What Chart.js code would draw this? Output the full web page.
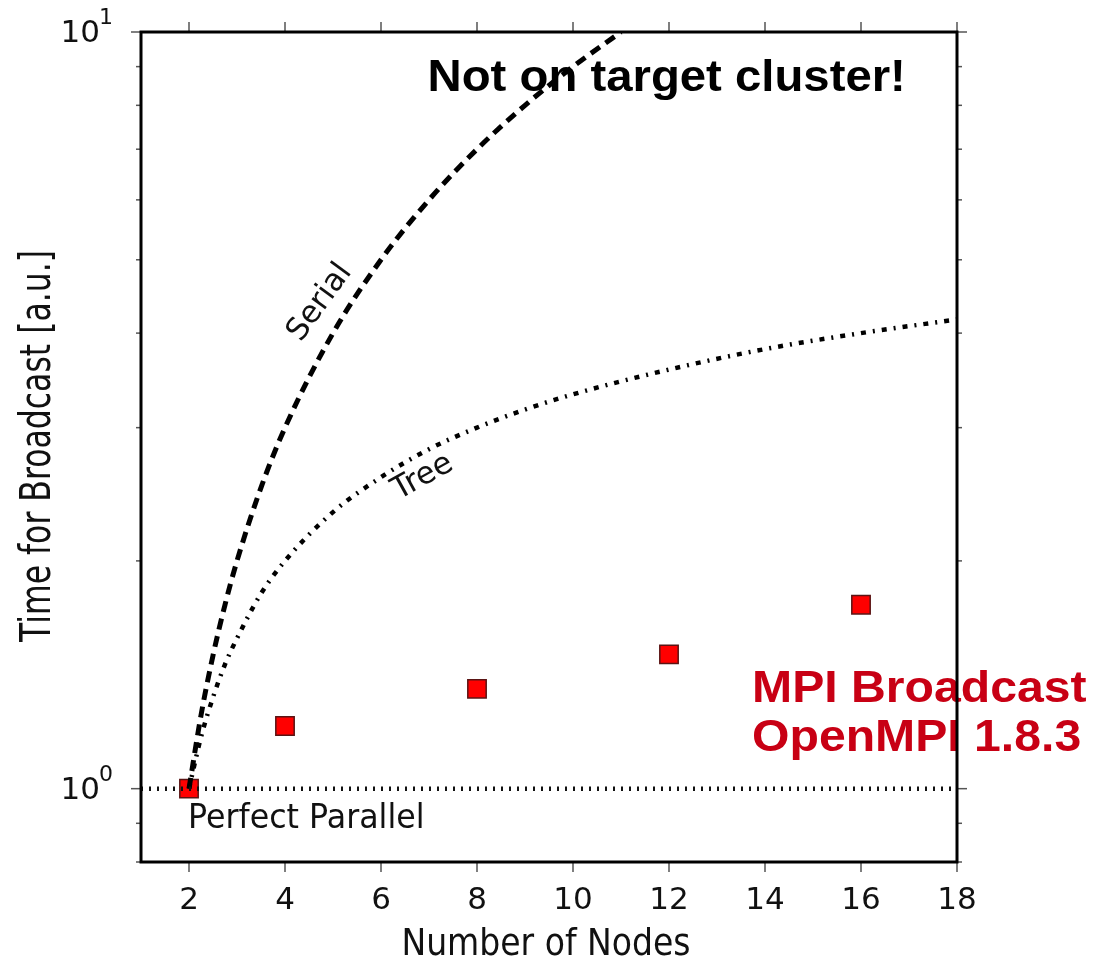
<!DOCTYPE html>
<html>
<head>
<meta charset="utf-8">
<title>Broadcast scaling</title>
<script src="https://cdn.jsdelivr.net/npm/chart.js@4.4.0/dist/chart.umd.min.js"></script>
<style>
  html, body { margin: 0; padding: 0; background: #fff; }
  #wrap { width: 1101px; height: 960px; }
</style>
</head>
<body>
<div id="wrap"><canvas id="bcast" width="1101" height="960"></canvas></div>
<script>
// measured MPI broadcast times (OpenMPI 1.8.3)
const nodes = [2, 4, 8, 12, 16];
const mpiTime = [1.0, 1.21, 1.355, 1.505, 1.75];

// serial model curve
const serialNodes = [2, 2.25, 2.5, 2.75, 3, 3.5, 4, 5, 6, 7, 8, 9, 10, 11];
const serialTime = [1, 1.25, 1.5, 1.75, 2, 2.5, 3, 4, 5, 6, 7, 8, 9, 10];

// tree model curve
const treeNodes = [2, 2.25, 2.5, 2.75, 3, 3.5, 4, 5, 6, 7, 8, 9, 10, 12, 14, 16, 18];
const treeTime = [1, 1.17, 1.32, 1.46, 1.58, 1.81, 2, 2.32, 2.58, 2.81, 3, 3.17, 3.32, 3.58, 3.81, 4, 4.17];

// perfect parallel baseline
const perfectNodes = [1, 18];
const perfectTime = [1, 1];

const xTicks = [2, 4, 6, 8, 10, 12, 14, 16, 18];
const yTicks = [0.8, 0.9, 1, 2, 3, 4, 5, 6, 7, 8, 9, 10];
const yExponents = { 1: '0', 10: '1' };

const FONT = "'DejaVu Sans', sans-serif";
const BOLD = "'Liberation Sans', Arial, sans-serif";
const INK = '#111';
const RED = '#c80014';

const pts = (xs, ys) => xs.map((x, i) => ({ x: x, y: ys[i] }));

// text labels placed in data coordinates; sx squeezes/stretches along the text
const notes = [
  { lines: ['Serial'], x: 4.73, y: 4.39, angle: -54, font: '31px ' + FONT, color: INK, align: 'center', baseline: 'middle', sx: 1 },
  { lines: ['Tree'], x: 6.87, y: 2.58, angle: -29, font: '31px ' + FONT, color: INK, align: 'center', baseline: 'middle', sx: 1 },
  { lines: ['Perfect Parallel'], x: 1.98, y: 0.888, angle: 0, font: '33px ' + FONT, color: INK, align: 'left', baseline: 'alphabetic', sx: 0.96 },
  { lines: ['Not on target cluster!'], x: 6.97, y: 8.35, angle: 0, font: 'bold 44px ' + BOLD, color: '#000', align: 'left', baseline: 'alphabetic', sx: 1.075 },
  { lines: ['MPI Broadcast', 'OpenMPI 1.8.3'], x: 13.73, y: 1.302, angle: 0, font: 'bold 45px ' + BOLD, color: RED, align: 'left', baseline: 'alphabetic', sx: 1.07, gap: 49 }
];

function drawText(ctx, text, px, py, o) {
  ctx.save();
  ctx.translate(px, py);
  ctx.rotate((o.angle || 0) * Math.PI / 180);
  ctx.scale(o.sx || 1, 1);
  ctx.font = o.font;
  ctx.fillStyle = o.color || INK;
  ctx.textAlign = o.align || 'left';
  ctx.textBaseline = o.baseline || 'alphabetic';
  ctx.fillText(text, 0, 0);
  ctx.restore();
}

const notesPlugin = {
  id: 'notes',
  afterDatasetsDraw(chart) {
    const { ctx, scales: { x, y } } = chart;
    notes.forEach(n => {
      const px = x.getPixelForValue(n.x);
      const py = y.getPixelForValue(n.y);
      n.lines.forEach((t, i) => {
        drawText(ctx, t, px, py + i * (n.gap || 0), n);
      });
    });
  }
};

// box frame, outward ticks on all four sides, tick labels and axis titles
const axesPlugin = {
  id: 'axes',
  afterDraw(chart) {
    const { ctx, chartArea: a, scales: { x, y } } = chart;
    const seg = (x1, y1, x2, y2) => { ctx.beginPath(); ctx.moveTo(x1, y1); ctx.lineTo(x2, y2); ctx.stroke(); };
    ctx.save();
    ctx.strokeStyle = '#555';
    ctx.lineWidth = 1.5;
    x.ticks.forEach(t => {
      const px = x.getPixelForValue(t.value);
      seg(px, a.bottom, px, a.bottom + 10);
      seg(px, a.top, px, a.top - 10);
      drawText(ctx, String(t.value), px, a.bottom + 47, { font: '31px ' + FONT, align: 'center' });
    });
    y.ticks.forEach(t => {
      const py = y.getPixelForValue(t.value);
      const exp = yExponents[t.value];
      const len = exp ? 10 : 5;
      seg(a.left, py, a.left - len, py);
      seg(a.right, py, a.right + len, py);
      if (exp) {
        drawText(ctx, exp, a.left - 28, py - 8, { font: '22px ' + FONT, align: 'right' });
        drawText(ctx, '10', a.left - 41, py + 10, { font: '31px ' + FONT, align: 'right' });
      }
    });
    ctx.strokeStyle = '#000';
    ctx.lineWidth = 3;
    ctx.strokeRect(a.left, a.top, a.right - a.left, a.bottom - a.top);

    drawText(ctx, 'Number of Nodes', (a.left + a.right) / 2 - 3, 955, { font: '38px ' + FONT, align: 'center', sx: 0.87 });
    drawText(ctx, 'Time for Broadcast [a.u.]', 50, 446, { font: '42px ' + FONT, align: 'center', angle: -90, sx: 0.75 });
    ctx.restore();
  }
};

new Chart(document.getElementById('bcast'), {
  type: 'scatter',
  data: {
    datasets: [
      {
        label: 'Perfect Parallel',
        data: pts(perfectNodes, perfectTime),
        showLine: true,
        borderColor: '#111',
        borderWidth: 4.5,
        borderDash: [2, 6],
        pointRadius: 0
      },
      {
        label: 'Serial',
        data: pts(serialNodes, serialTime),
        showLine: true,
        cubicInterpolationMode: 'monotone',
        borderColor: '#000',
        borderWidth: 5,
        borderDash: [11, 7],
        pointRadius: 0
      },
      {
        label: 'Tree',
        data: pts(treeNodes, treeTime),
        showLine: true,
        cubicInterpolationMode: 'monotone',
        borderColor: '#000',
        borderWidth: 4.5,
        borderDash: [5, 7, 2, 7],
        pointRadius: 0
      },
      {
        label: 'MPI Broadcast',
        data: pts(nodes, mpiTime),
        pointStyle: 'rect',
        pointRadius: 13,
        backgroundColor: '#ff0000',
        borderColor: '#5a1414',
        borderWidth: 1.5
      }
    ]
  },
  options: {
    responsive: false,
    animation: false,
    layout: { autoPadding: false, padding: { left: 0, top: 32, right: 144, bottom: 0 } },
    plugins: { legend: { display: false }, tooltip: { enabled: false } },
    scales: {
      x: {
        type: 'linear',
        min: 1,
        max: 18,
        afterBuildTicks: s => { s.ticks = xTicks.map(v => ({ value: v })); },
        afterFit: s => { s.height = 98; },
        grid: { display: false, drawTicks: false },
        border: { display: false },
        ticks: { display: false }
      },
      y: {
        type: 'logarithmic',
        min: 0.8,
        max: 10,
        afterBuildTicks: s => { s.ticks = yTicks.map(v => ({ value: v })); },
        afterFit: s => { s.width = 141; },
        grid: { display: false, drawTicks: false },
        border: { display: false },
        ticks: { display: false }
      }
    }
  },
  plugins: [notesPlugin, axesPlugin]
});
</script>
</body>
</html>
